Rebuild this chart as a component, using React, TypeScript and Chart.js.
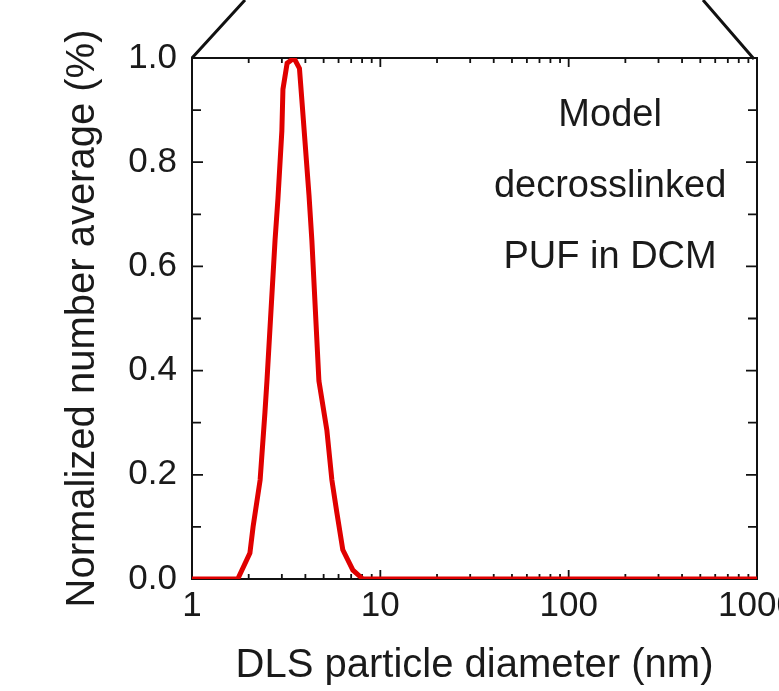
import React, { useEffect, useRef } from "react";
import { Chart, registerables } from "chart.js";

Chart.register(...registerables);

// Data
const diameters = [1, 1.75, 2.03, 2.11, 2.3, 2.44, 2.5, 2.76, 2.86, 3.0, 3.04, 3.2, 3.48, 3.72, 3.83, 3.98, 4.18, 4.33, 4.72, 5.2, 5.53, 5.88, 6.32, 7.15, 8.08, 1000];
const normalizedValues = [0, 0, 0.05, 0.1, 0.19, 0.32, 0.38, 0.65, 0.73, 0.86, 0.94, 0.99, 1.0, 0.98, 0.92, 0.84, 0.737, 0.65, 0.38, 0.286, 0.19, 0.127, 0.056, 0.017, 0, 0];

const xTickValues = [1, 10, 100, 1000];
const xTickLabels = ["1", "10", "100", "1000"];
const xMinorMultipliers = [2, 3, 4, 5, 6, 7, 8, 9];
const xDecades = [1, 10, 100];
const yTickLabels = ["0.0", "0.2", "0.4", "0.6", "0.8", "1.0"];
const yMinorTicks = [0.1, 0.2, 0.3, 0.4, 0.5, 0.6, 0.7, 0.8, 0.9];
const annotationLines = ["Model", "decrosslinked", "PUF in DCM"];

const FONT = 'Arial, "Liberation Sans", sans-serif';
const TEXT = "#1a1a1a";

const framePlugin = {
  id: "frame",
  beforeDatasetsDraw(chart: any) {
    const { ctx, chartArea } = chart;
    const { left, right, top, bottom } = chartArea;
    const xs = chart.scales.x;
    const ys = chart.scales.y;
    ctx.save();
    ctx.strokeStyle = "#111";
    ctx.lineWidth = 2;
    ctx.strokeRect(left, top, right - left, bottom - top);
    // x ticks (inside), bottom and top
    ctx.lineWidth = 1.8;
    ctx.beginPath();
    for (const d of xDecades) {
      for (const m of xMinorMultipliers) {
        const px = xs.getPixelForValue(d * m);
        ctx.moveTo(px, bottom);
        ctx.lineTo(px, bottom - 5);
        ctx.moveTo(px, top);
        ctx.lineTo(px, top + 5);
      }
    }
    for (const v of xTickValues) {
      const px = xs.getPixelForValue(v);
      ctx.moveTo(px, bottom);
      ctx.lineTo(px, bottom - 9);
      ctx.moveTo(px, top);
      ctx.lineTo(px, top + 9);
    }
    for (const v of yMinorTicks) {
      const py = ys.getPixelForValue(v);
      const len = Math.round(v * 10) % 2 === 0 ? 11 : 9;
      ctx.moveTo(left, py);
      ctx.lineTo(left + len, py);
      ctx.moveTo(right, py);
      ctx.lineTo(right - len, py);
    }
    ctx.stroke();
    // zoom indicator lines above the frame
    ctx.lineWidth = 3;
    ctx.beginPath();
    ctx.moveTo(left, top);
    ctx.lineTo(left + 53, top - 58);
    ctx.moveTo(right - 3, top + 1);
    ctx.lineTo(right - 54, top - 58);
    ctx.stroke();
    ctx.restore();
  },
  afterDraw(chart: any) {
    const { ctx, chartArea } = chart;
    const { left, right, top } = chartArea;
    ctx.save();
    ctx.fillStyle = TEXT;
    ctx.font = `38px ${FONT}`;
    ctx.textAlign = "center";
    ctx.textBaseline = "alphabetic";
    const cx = left + 0.74 * (right - left);
    annotationLines.forEach((t, i) => {
      ctx.fillText(t, cx, top + 68 + i * 71);
    });
    ctx.restore();
  },
};

export default function App() {
  const canvasRef = useRef<HTMLCanvasElement | null>(null);

  useEffect(() => {
    const canvas = canvasRef.current;
    if (!canvas) return;
    const chart = new Chart(canvas, {
      type: "line",
      data: {
        datasets: [
          {
            data: diameters.map((d, i) => ({ x: d, y: normalizedValues[i] })),
            borderColor: "#e00000",
            borderWidth: 5,
            pointRadius: 0,
            tension: 0,
            fill: false,
          },
        ],
      },
      options: {
        responsive: false,
        animation: false,
        devicePixelRatio: 1,
        layout: { padding: { top: 58, right: 22, left: 0, bottom: 0 } },
        plugins: { legend: { display: false }, tooltip: { enabled: false } },
        scales: {
          x: {
            type: "logarithmic",
            min: 1,
            max: 1000,
            grid: { display: false, drawTicks: false },
            border: { display: false },
            afterBuildTicks: (scale: any) => {
              scale.ticks = xTickValues.map((v) => ({ value: v }));
            },
            ticks: {
              autoSkip: false,
              maxRotation: 0,
              padding: 6,
              color: TEXT,
              font: { family: FONT, size: 35 },
              callback: (v: any) => {
                const idx = xTickValues.indexOf(Number(v));
                return idx >= 0 ? xTickLabels[idx] : "";
              },
            },
            title: {
              display: true,
              text: "DLS particle diameter (nm)",
              color: TEXT,
              font: { family: FONT, size: 40 },
              padding: { top: 0, bottom: 1 },
            },
            afterFit: (scale: any) => {
              scale.height = 112;
              scale.paddingLeft = 0;
              scale.paddingRight = 0;
            },
          },
          y: {
            type: "linear",
            min: 0,
            max: 1,
            grid: { display: false, drawTicks: false },
            border: { display: false },
            ticks: {
              stepSize: 0.2,
              padding: 15,
              color: TEXT,
              font: { family: FONT, size: 35 },
              callback: (v: any) => {
                const idx = Math.round(Number(v) * 5);
                return yTickLabels[idx] ?? "";
              },
            },
            title: {
              display: true,
              text: "Normalized number average (%)",
              color: TEXT,
              font: { family: FONT, size: 40 },
              padding: { top: 59, bottom: 0 },
            },
            afterFit: (scale: any) => {
              scale.width = 192;
              scale.paddingTop = 0;
              scale.paddingBottom = 0;
            },
          },
        },
      },
      plugins: [framePlugin],
    });
    return () => chart.destroy();
  }, []);

  return (
    <div style={{ position: "absolute", left: 0, top: 0, width: 779, height: 691, background: "#fff", overflow: "hidden" }}>
      <canvas ref={canvasRef} width={779} height={691} style={{ display: "block" }} />
    </div>
  );
}
